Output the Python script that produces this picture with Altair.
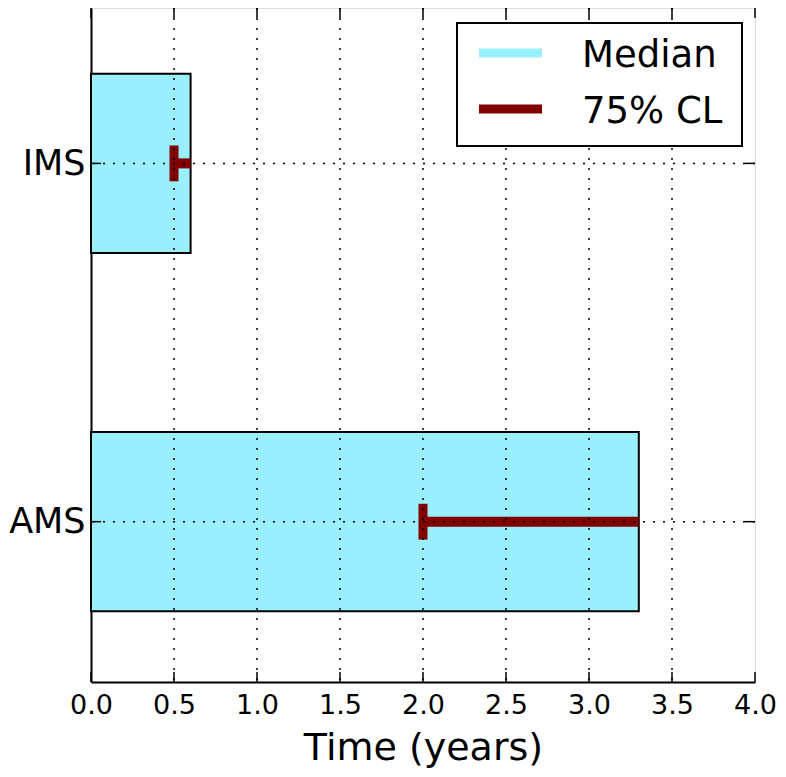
import altair as alt
import pandas as pd

# ---- data ----
categories = ["AMS", "IMS"]
positions = [0, 1]
median_years = [3.3, 0.6]
cl75_low_years = [2.0, 0.5]
x_ticks = [0.0, 0.5, 1.0, 1.5, 2.0, 2.5, 3.0, 3.5, 4.0]
legend_labels = ["Median", "75% CL"]

BAR_COLOR = "#99EFFC"
ERR_COLOR = "#800000"
FONT = "DejaVu Sans"
W, H = 664, 674
BAR_HALF = 0.25
CAP_HALF = 0.05

df = pd.DataFrame({
    "cat": categories,
    "pos": positions,
    "median": median_years,
    "low": cl75_low_years,
})
df["zero"] = 0.0
df["y0"] = df["pos"] - BAR_HALF
df["y1"] = df["pos"] + BAR_HALF
df["c0"] = df["pos"] - CAP_HALF
df["c1"] = df["pos"] + CAP_HALF

xscale = alt.Scale(domain=[0, 4], nice=False, zero=False)
yscale = alt.Scale(domain=[-0.4475, 1.4337], nice=False, zero=False)

label_expr = " : ".join(
    [f"datum.value == {p} ? '{c}'" for p, c in zip(positions, categories)]
) + " : ''"

xaxis = alt.Axis(values=x_ticks, format=".1f", grid=False, ticks=False, tickSize=0,
                 labelFontSize=27, labelFont=FONT, labelColor="black", labelPadding=10,
                 title="Time (years)", titleFont=FONT, titleFontSize=38,
                 titleFontWeight="normal", titleColor="black", titlePadding=11,
                 domain=True, domainColor="black", domainWidth=2, labelFlush=False)
yaxis = alt.Axis(values=positions, labelExpr=label_expr, grid=False, ticks=False, tickSize=0,
                 labelFontSize=35, labelFont=FONT, labelColor="black", labelPadding=6,
                 title=None, domain=True, domainColor="black", domainWidth=2)

base = alt.Chart(df)

bars = base.mark_rect(fill=BAR_COLOR, stroke="black", strokeWidth=2).encode(
    x=alt.X("zero:Q", scale=xscale, axis=xaxis),
    x2="median:Q",
    y=alt.Y("y0:Q", scale=yscale, axis=yaxis),
    y2="y1:Q",
)

err_line = base.mark_rule(color=ERR_COLOR, strokeWidth=10).encode(
    x="low:Q", x2="median:Q", y="pos:Q"
)
err_cap = base.mark_rule(color=ERR_COLOR, strokeWidth=9).encode(
    x="low:Q", y="c0:Q", y2="c1:Q"
)

xt = pd.DataFrame({"t": x_ticks})
grid_x = alt.Chart(xt).transform_filter("datum.t > 0 && datum.t < 4").mark_rule(
    color="black", strokeWidth=1.5, strokeDash=[2, 8]
).encode(x="t:Q")
grid_y = base.mark_rule(color="black", strokeWidth=1.5, strokeDash=[2, 8]).encode(y="pos:Q")

tick_bot = alt.Chart(xt).mark_rule(color="black", strokeWidth=1.5).encode(
    x="t:Q", y=alt.value(H - 10), y2=alt.value(H))
tick_top = alt.Chart(xt).mark_rule(color="black", strokeWidth=1.5).encode(
    x="t:Q", y=alt.value(0), y2=alt.value(10))
tick_left = base.mark_rule(color="black", strokeWidth=1.5).encode(
    y="pos:Q", x=alt.value(0), x2=alt.value(10))
tick_right = base.mark_rule(color="black", strokeWidth=1.5).encode(
    y="pos:Q", x=alt.value(W - 10), x2=alt.value(W))

# ---- legend (drawn inside the plot, upper right) ----
leg_df = pd.DataFrame({"lab": legend_labels})
leg_box = alt.Chart(leg_df).transform_filter(f"datum.lab == '{legend_labels[0]}'").mark_rect(
    fill="white", stroke="black", strokeWidth=2
).encode(x=alt.value(366), x2=alt.value(651), y=alt.value(15), y2=alt.value(138))

leg_layers = []
for lab, col, ly in zip(legend_labels, [BAR_COLOR, ERR_COLOR], [45, 101]):
    d = alt.Chart(leg_df).transform_filter(f"datum.lab == '{lab}'")
    leg_layers.append(d.mark_rule(color=col, strokeWidth=9).encode(
        x=alt.value(388), x2=alt.value(451), y=alt.value(ly)))
    leg_layers.append(d.mark_text(align="left", baseline="middle", font=FONT,
                                  fontSize=37, color="black").encode(
        x=alt.value(491), y=alt.value(ly + 3), text="lab:N"))

chart = alt.layer(
    bars, err_line, err_cap, grid_x, grid_y,
    tick_bot, tick_top, tick_left, tick_right,
    leg_box, *leg_layers
).properties(
    width=W, height=H,
    autosize=alt.AutoSizeParams(type="none"),
    padding={"left": 83, "top": 0, "right": 23, "bottom": 87},
).configure_view(stroke="black", strokeWidth=2).configure(background="white")

chart.save("out.html", embed_options={"renderer": "svg", "actions": False})
